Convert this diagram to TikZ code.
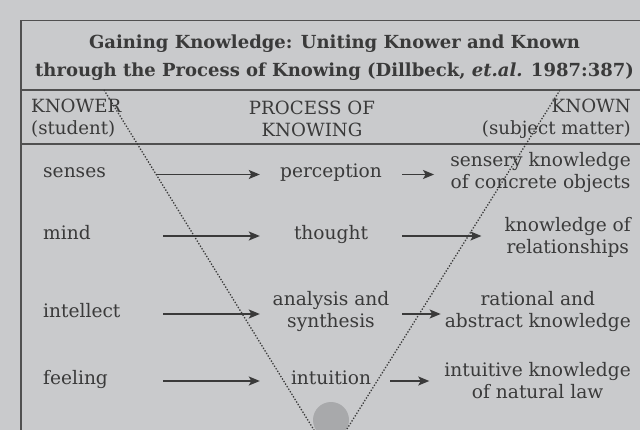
\documentclass[tikz,border=0pt]{standalone}
\usepackage{fontspec}
\setmainfont{DejaVu Serif}
\usepackage{tikz}
\usetikzlibrary{arrows.meta,positioning}
\definecolor{pagegray}{HTML}{C9CACC}
\definecolor{inkgray}{HTML}{3A3A3A}
\definecolor{rulegray}{HTML}{505050}
\definecolor{dotgray}{HTML}{A8A9AB}
\tikzset{%
	heading/.style  = {font=\fontsize{18}{28}\selectfont\bfseries, text=inkgray, align=center, inner sep=0pt},
	colhead/.style  = {font=\fontsize{18.2}{22}\selectfont, text=inkgray, inner sep=0pt},
	body/.style     = {font=\fontsize{18.6}{22}\selectfont, text=inkgray, inner sep=0pt},
	oneline/.style  = {text height=1.5ex, text depth=.25ex},
	knower/.style   = {body, oneline, anchor=west, text width=120pt},
	process/.style  = {body, minimum width=142pt, align=center},
	known/.style    = {body, anchor=east, align=center},
	arrow/.style    = {line width=1.4pt, draw=inkgray, -{Stealth[length=11pt,width=9pt,inset=2.5pt]}},
	frame/.style    = {line width=1.6pt, draw=rulegray},
	vline/.style    = {line width=1.3pt, draw=inkgray, dash pattern=on 1.3pt off 1.7pt},
}

\begin{document}
\begin{tikzpicture}[x=1pt,y=-1pt]
	\useasboundingbox (0,0) rectangle (640,430);
	\fill[pagegray] (0,0) rectangle (640,430);
	\clip (0,0) rectangle (640,430);

	% frame of the table
	\draw[frame] (640,20.7) -| (20.7,430);
	\draw[frame] (20.7,90) -- (640,90);
	\draw[frame] (20.7,144) -- (640,144);

	% the V
	\coordinate (vleft) at (104,90);
	\coordinate (vright) at (560,90);
	\coordinate (apex) at (330,456);
	\fill[dotgray] (331,420) circle (18pt);
	\draw[vline] (vleft) -- (apex) -- (vright);

	\node [heading] (title) at (334.5,57.5) {Gaining Knowledge: Uniting Knower and Known\\through the Process of Knowing (Dillbeck, \textit{et.al.} 1987:387)};

	\node [colhead,align=left,anchor=west] (knowerhd) at (31,118.5) {KNOWER\\(student)};
	\node [colhead,align=center] (processhd) at (312,118.5) {PROCESS OF\\KNOWING};
	\node [colhead,align=right,anchor=east] (knownhd) at (631,118.5) {KNOWN\\(subject matter)};

	\node [knower] (senses) at (43,174.5) {senses};
	\node [process,oneline] (perception) at (331,174.5) {perception};
	\node [known] (concrete) at (631,172.6) {sensery knowledge\\of concrete objects};

	\node [knower] (mind) at (43,236) {mind};
	\node [process,oneline] (thought) at (331,236) {thought};
	\node [known] (relations) at (631,237.2) {knowledge of\\relationships};

	\node [knower] (intellect) at (43,314) {intellect};
	\node [process] (analysis) at (331,311.5) {analysis and\\synthesis};
	\node [known] (abstract) at (631,311.5) {rational and\\abstract knowledge};

	\node [knower] (feeling) at (43,381) {feeling};
	\node [process,oneline] (intuition) at (331,381) {intuition};
	\node [known] (natural) at (631,380.5) {intuitive knowledge\\of natural law};

	\draw[arrow,shorten <=-7pt] (senses.east) -- (senses.east -| perception.west);
	\draw[arrow,shorten >=16pt] (perception.east) -- (perception.east -| concrete.west);
	\draw[arrow] (mind.east) -- (mind.east -| thought.west);
	\draw[arrow,shorten >=23pt] (thought.east) -- (thought.east -| relations.west);
	\draw[arrow] (intellect.east) -- (intellect.east -| analysis.west);
	\draw[arrow,shorten >=4pt] (analysis.east |- intellect.east) -- (intellect.east -| abstract.west);
	\draw[arrow] (feeling.east) -- (feeling.east -| intuition.west);
	\draw[arrow,shorten <=-12pt,shorten >=15pt] (intuition.east) -- (intuition.east -| natural.west);
\end{tikzpicture}
\end{document}
